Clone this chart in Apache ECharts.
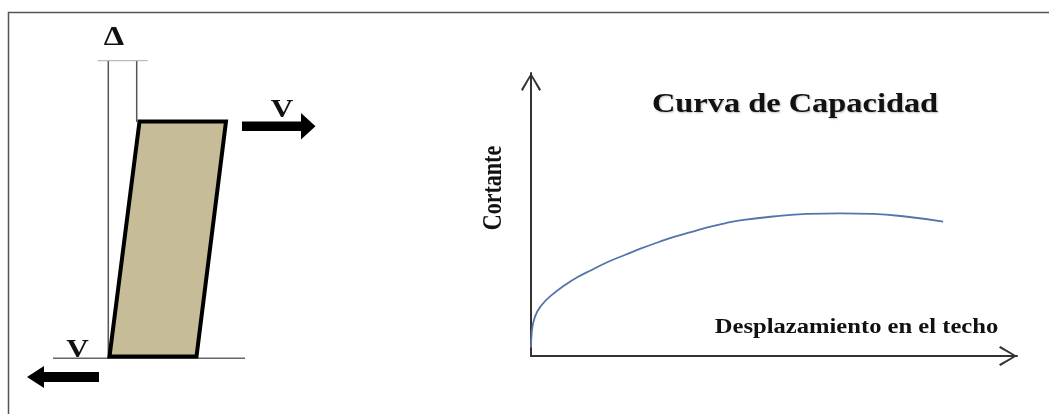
<!DOCTYPE html>
<html><head><meta charset="utf-8">
<script src="https://cdn.jsdelivr.net/npm/echarts@6/dist/echarts.min.js"></script>
<style>html,body{margin:0;padding:0;background:#fff}#c{width:1049px;height:414px}</style>
</head><body><div id="c"></div>
<script>
// Capacity curve (schematic): roof displacement vs base shear, relative units 0-100
const displacement = [0, 0.14, 0.82, 2.2, 4.3, 7.0, 9.7, 12.5, 15.9, 19.3, 22.8, 26.2, 29.6, 33.1, 36.5, 39.9, 43.0, 49.8, 56.8, 63.6, 70.4, 77.4, 84.8];
const shear        = [3, 8.0, 13.9, 18.0, 21.6, 25.1, 28.0, 30.4, 33.3, 35.7, 38.1, 40.2, 42.2, 43.9, 45.5, 46.9, 47.9, 49.3, 50.2, 50.4, 50.2, 49.2, 47.5];
const titleText = 'Curva de Capacidad';
const xAxisLabel = 'Desplazamiento en el techo';
const yAxisLabel = 'Cortante';
const forceLabel = 'V';
const driftLabel = 'Δ';

const serif = 'bold {S}px "Liberation Serif", "DejaVu Serif", serif';
const f = s => serif.replace('{S}', s);
const chevron = 'path://M10,0 L20,16.6 L18.3,18 L10,3.2 L1.7,18 L0,16.6 Z';

const chart = echarts.init(document.getElementById('c'), null, {renderer: 'canvas'});
const option = {
  animation: false,
  backgroundColor: '#fff',
  grid: {left: 531, right: 32, top: 73, bottom: 58},
  xAxis: {
    type: 'value', min: 0, max: 100,
    axisLine: {show: true, lineStyle: {color: '#333', width: 2},
      symbol: ['none', chevron], symbolSize: [20, 18], symbolOffset: [0, -9]},
    axisTick: {show: false}, axisLabel: {show: false}, splitLine: {show: false}
  },
  yAxis: {
    type: 'value', min: 0, max: 100,
    axisLine: {show: true, lineStyle: {color: '#333', width: 2},
      symbol: ['none', chevron], symbolSize: [20, 18], symbolOffset: [0, -9]},
    axisTick: {show: false}, axisLabel: {show: false}, splitLine: {show: false}
  },
  series: [{
    type: 'line', smooth: 0.5, showSymbol: false,
    data: displacement.map((x, i) => [x, shear[i]]),
    lineStyle: {color: '#5574ab', width: 1.8}
  }],
  graphic: [
    // frame
    {type: 'polyline', shape: {points: [[8.5, 414], [8.5, 12.5], [1049, 12.5]]},
     style: {stroke: '#555', lineWidth: 1.5, fill: null}},
    // ground line and reference lines
    {type: 'line', shape: {x1: 53, y1: 358.3, x2: 245, y2: 358.3}, style: {stroke: '#666', lineWidth: 1.5}},
    {type: 'line', shape: {x1: 108.3, y1: 61, x2: 108.3, y2: 358}, style: {stroke: '#555', lineWidth: 1.5}},
    {type: 'line', shape: {x1: 136.7, y1: 61, x2: 136.7, y2: 122}, style: {stroke: '#555', lineWidth: 1.5}},
    {type: 'line', shape: {x1: 97.7, y1: 60.7, x2: 147.7, y2: 60.7}, style: {stroke: '#aaa', lineWidth: 1}},
    // deformed wall
    {type: 'polygon', shape: {points: [[139.5, 121.5], [226, 121.5], [196.5, 356.5], [109.5, 356.5]]},
     style: {fill: '#c6bc97', stroke: '#000', lineWidth: 4, lineJoin: 'miter'}},
    // force arrows
    {type: 'polygon', shape: {points: [[242, 121.5], [301, 121.5], [301, 113], [315.5, 126.3], [301, 139.5], [301, 131], [242, 131]]},
     style: {fill: '#000'}},
    {type: 'polygon', shape: {points: [[99, 372], [44, 372], [44, 366], [27, 377], [44, 388], [44, 382], [99, 382]]},
     style: {fill: '#000'}},
    // labels
    {type: 'text', x: 114, y: 38, scaleX: 1.2, style: {text: driftLabel, font: f(27), fill: '#111', align: 'center', verticalAlign: 'middle'}},
    {type: 'text', x: 282, y: 110, scaleX: 1.2, style: {text: forceLabel, font: f(26), fill: '#111', align: 'center', verticalAlign: 'middle'}},
    {type: 'text', x: 77.5, y: 350, scaleX: 1.2, style: {text: forceLabel, font: f(26), fill: '#111', align: 'center', verticalAlign: 'middle'}},
    {type: 'text', x: 795, y: 105, scaleX: 1.2, style: {text: titleText, font: f(27), fill: '#111', align: 'center', verticalAlign: 'middle',
      textShadowColor: 'rgba(0,0,0,0.25)', textShadowBlur: 2, textShadowOffsetX: 1, textShadowOffsetY: 1}},
    {type: 'text', x: 856.5, y: 328, scaleX: 1.2, style: {text: xAxisLabel, font: f(20.5), fill: '#111', align: 'center', verticalAlign: 'middle'}},
    {type: 'text', x: 494, y: 188, rotation: Math.PI / 2, scaleY: 1.25, style: {text: yAxisLabel, font: f(22), fill: '#111', align: 'center', verticalAlign: 'middle'}}
  ]
};
chart.setOption(option);
</script>
</body></html>
